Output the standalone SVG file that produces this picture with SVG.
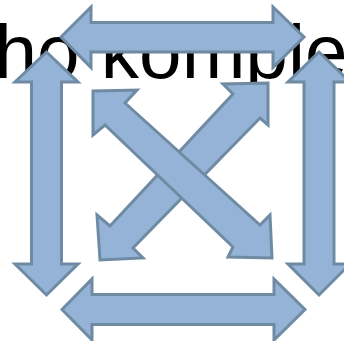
<svg xmlns="http://www.w3.org/2000/svg" width="344" height="341" viewBox="0 0 344 341">
<style>
.arr{fill:#95b3d7;stroke:#6e8ba3;stroke-width:3;stroke-linejoin:miter}
.lbl{font-family:"Liberation Sans",Arial,sans-serif;font-size:76.5px;fill:#000}
</style>
<rect width="344" height="341" fill="#fff"/>
<text class="lbl" x="-5.5" y="78">ho komplet</text>
<g id="connectors">
<g id="arrow-top"><polygon class="arr" points="61,37 91,7 91,22.5 273,22.5 273,7 304,37 273,67.5 273,52 91,52 91,67.5"/></g>
<g id="arrow-bottom"><polygon class="arr" points="62,309.5 92,279 92,294.5 274,294.5 274,279 305,309.5 274,340 274,324.5 92,324.5 92,340"/></g>
<g id="arrow-left"><polygon class="arr" points="46.5,52 78,82 61.5,82 61.5,264 78,264 46.5,295 15,264 31.5,264 31.5,82 15,82"/></g>
<g id="arrow-right"><polygon class="arr" points="319,52 350,82 334,82 334,264 350,264 319,295 288,264 304,264 304,82 288,82"/></g>
<g id="arrow-diag-trbl"><polygon class="arr" points="268,83 268,125 260,118 133,248 143,258 100,260 97,215 110,226 233,94 223,84"/></g>
<g id="arrow-diag-tlbr"><polygon class="arr" points="93,91 137,90 125,103 260,225 270,215 272,258 228,257 233,247 105,125 93,135"/></g>
</g>
</svg>
